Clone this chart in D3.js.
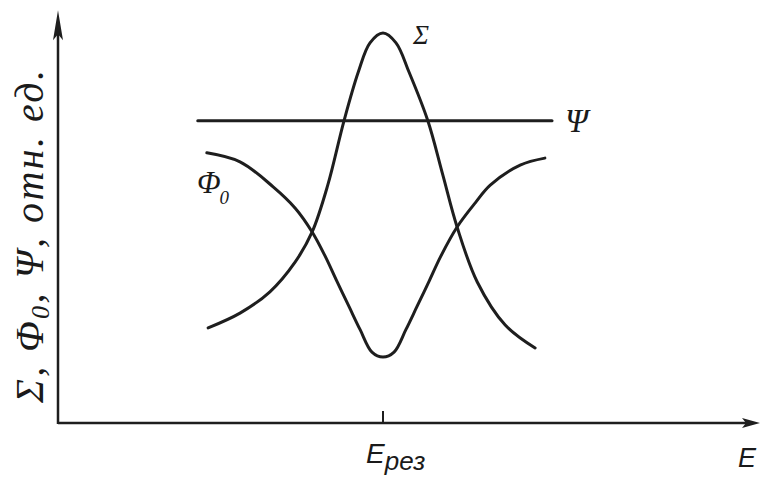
<!DOCTYPE html>
<html>
<head>
<meta charset="utf-8">
<script src="https://cdn.jsdelivr.net/npm/d3@7"></script>
<style>
  body { margin: 0; background: #fff; }
  text { font-family: "Liberation Serif", serif; font-style: italic; fill: #1a1a1a; }
</style>
</head>
<body>
<div id="chart"></div>
<script>
const width = 771;
const height = 486;

// energy in arbitrary units, E_res = 5
const sigmaE = [2.31, 2.80, 3.26, 3.65, 3.91, 4.15, 4.40, 4.62, 4.80, 5.00, 5.20, 5.40, 5.69, 5.92, 6.14, 6.45, 6.88, 7.34];
const sigmaV = [2.32, 2.68, 3.20, 3.93, 4.66, 5.80, 7.37, 8.56, 9.27, 9.51, 9.27, 8.56, 7.37, 6.05, 4.78, 3.44, 2.39, 1.83];

const phiE = [2.29, 2.80, 3.31, 3.65, 3.91, 4.11, 4.29, 4.48, 4.65, 4.83, 5.00, 5.17, 5.35, 5.52, 5.71, 5.89, 6.14, 6.42, 6.65, 7.11, 7.49];
const phiV = [6.59, 6.37, 5.76, 5.24, 4.66, 4.07, 3.46, 2.83, 2.27, 1.73, 1.61, 1.73, 2.27, 2.83, 3.46, 4.07, 4.78, 5.37, 5.80, 6.29, 6.46];

const psiE = [2.15, 7.6];
const psiV = [7.37, 7.37];

const eRes = 5;

const svg = d3.select("#chart").append("svg")
    .attr("width", width)
    .attr("height", height);

const x = d3.scaleLinear().domain([0, 10.8]).range([58, 760]);
const y = d3.scaleLinear().domain([0, 10]).range([423, 13]);

const line = d3.line()
    .x(d => x(d[0]))
    .y(d => y(d[1]))
    .curve(d3.curveCatmullRom.alpha(0.5));

const ink = "#1e1e1e";

// axes
svg.append("line")
    .attr("x1", x(0)).attr("y1", y(0))
    .attr("x2", x(10.6)).attr("y2", y(0))
    .attr("stroke", ink).attr("stroke-width", 2.5);
svg.append("line")
    .attr("x1", x(0)).attr("y1", y(0) + 1)
    .attr("x2", x(0)).attr("y2", y(9.6))
    .attr("stroke", ink).attr("stroke-width", 2.5);

// arrow heads
svg.append("path")
    .attr("d", `M${x(10.8)},${y(0)} L${x(10.8) - 18},${y(0) - 5} L${x(10.8) - 14},${y(0)} L${x(10.8) - 18},${y(0) + 5} Z`)
    .attr("fill", ink);
svg.append("path")
    .attr("d", `M${x(0)},${y(10.07)} L${x(0) - 5},${y(10.07) + 30} L${x(0)},${y(10.07) + 24} L${x(0) + 5},${y(10.07) + 30} Z`)
    .attr("fill", ink);

// tick at resonance
svg.append("line")
    .attr("x1", x(eRes)).attr("x2", x(eRes))
    .attr("y1", y(0)).attr("y2", y(0) - 12)
    .attr("stroke", ink).attr("stroke-width", 2);

// curves
const curves = [
    d3.zip(sigmaE, sigmaV),
    d3.zip(phiE, phiV),
    d3.zip(psiE, psiV)
];

svg.selectAll(".curve")
    .data(curves)
    .enter()
    .append("path")
    .attr("class", "curve")
    .attr("d", line)
    .attr("fill", "none")
    .attr("stroke", ink)
    .attr("stroke-width", 3)
    .attr("stroke-linecap", "round");

// curve labels
svg.append("text")
    .attr("x", 413).attr("y", 44)
    .attr("font-size", 27)
    .text("Σ");

svg.append("text")
    .attr("x", 565).attr("y", 132)
    .attr("font-size", 33)
    .text("Ψ");

const phiLabel = svg.append("text")
    .attr("x", 197).attr("y", 193)
    .attr("font-size", 31);
phiLabel.append("tspan").text("Φ");
phiLabel.append("tspan").attr("font-size", 19).attr("dy", 11).attr("dx", -1).text("0");

// x axis labels
const eresLabel = svg.append("text")
    .attr("x", 366).attr("y", 463)
    .style("font-family", "'Liberation Sans', sans-serif")
    .attr("font-size", 28);
eresLabel.append("tspan").text("E");
eresLabel.append("tspan").attr("font-size", 26).attr("dy", 7).text("рез");

svg.append("text")
    .attr("x", 738).attr("y", 467)
    .style("font-family", "'Liberation Sans', sans-serif")
    .attr("font-size", 27)
    .text("E");

// y axis label
const yLabel = svg.append("text")
    .attr("transform", `translate(43, 403) rotate(-90)`)
    .attr("font-size", 40)
    .attr("textLength", 333)
    .attr("lengthAdjust", "spacing");
yLabel.append("tspan").text("Σ, Φ");
yLabel.append("tspan").attr("font-size", 26).attr("dy", 6).text("0");
yLabel.append("tspan").attr("dy", -6).text(", Ψ, отн. ед.");
</script>
</body>
</html>
